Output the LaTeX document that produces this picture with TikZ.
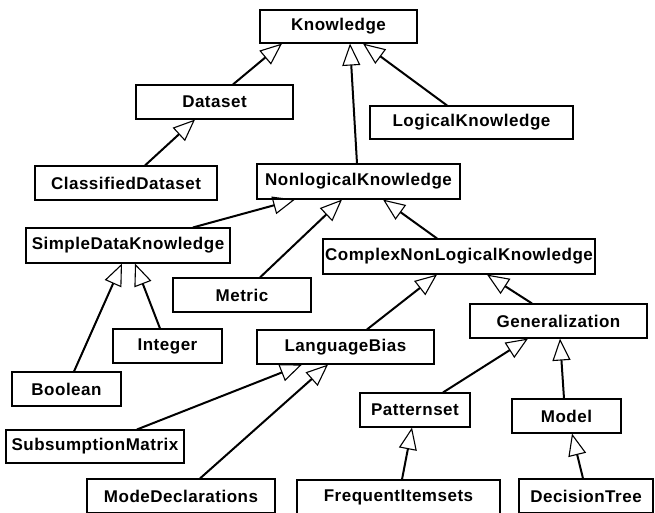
\documentclass[tikz,border=0pt]{standalone}
\usepackage{fontspec}
\setmainfont{Liberation Sans}[LetterSpace=3]
\usetikzlibrary{arrows.meta}
\begin{document}
\begin{tikzpicture}[x=1pt,y=-1pt,
  box/.style={draw, line width=1.1pt, fill=white, inner sep=0pt, minimum height=34pt,
    font=\fontsize{17}{20}\selectfont\bfseries},
  isa/.style={line width=2pt, -{Triangle[open, length=22pt, width=18pt, line width=1.1pt]}}]
\useasboundingbox (0,0) rectangle (655,512);
\node[box, minimum width=157pt, minimum height=33pt] (know) at (338.5,26.5) {Knowledge};
\node[box, minimum width=157pt] (data) at (214.5,102) {Dataset};
\node[box, minimum width=203pt, minimum height=33pt] (logk) at (471.5,122.5) {LogicalKnowledge};
\node[box, minimum width=182pt] (cds) at (126,183) {ClassifiedDataset};
\node[box, minimum width=203pt, minimum height=35pt] (nlk) at (358.5,181.5) {NonlogicalKnowledge};
\node[box, minimum width=204pt, minimum height=35pt] (sdk) at (128,245.5) {SimpleDataKnowledge};
\node[box, minimum width=272pt, minimum height=35pt] (cnlk) at (459,256.5) {ComplexNonLogicalKnowledge};
\node[box, minimum width=138pt] (metric) at (242,295) {Metric};
\node[box, minimum width=177pt] (gen) at (558.5,321) {Generalization};
\node[box, minimum width=109pt] (int) at (167.5,346) {Integer};
\node[box, minimum width=177pt] (lb) at (345.5,347) {LanguageBias};
\node[box, minimum width=109pt] (bool) at (66.5,389) {Boolean};
\node[box, minimum width=110pt] (pat) at (415,410) {Patternset};
\node[box, minimum width=109pt] (model) at (566.5,416) {Model};
\node[box, minimum width=178pt, minimum height=33pt] (sm) at (95,446.5) {SubsumptionMatrix};
\node[box, minimum width=188pt] (md) at (181,496) {ModeDeclarations};
\node[box, minimum width=203pt] (fi) at (398.5,497) {FrequentItemsets};
\node[box, minimum width=134pt] (dt) at (586,496) {DecisionTree};

\draw[isa] ([xshift=18.5pt]data.north) -- ([xshift=-56.5pt]know.south);
\draw[isa] ([xshift=19pt]cds.north) -- ([xshift=-19.5pt]data.south);
\draw[isa] ([xshift=-1.5pt]nlk.north) -- ([xshift=11.5pt]know.south);
\draw[isa] ([xshift=-24.5pt]logk.north) -- ([xshift=24.5pt]know.south);
\draw[isa] ([xshift=65pt]sdk.north) -- ([xshift=-63.5pt]nlk.south);
\draw[isa] ([xshift=18pt]metric.north) -- ([xshift=-16.5pt]nlk.south);
\draw[isa] ([xshift=-22pt]cnlk.north) -- ([xshift=24.5pt]nlk.south);
\draw[isa] ([xshift=7.5pt]bool.north) -- ([xshift=-6pt]sdk.south);
\draw[isa] ([xshift=-7.5pt]int.north) -- ([xshift=7pt]sdk.south);
\draw[isa] ([xshift=21.5pt]lb.north) -- ([xshift=-22pt]cnlk.south);
\draw[isa] ([xshift=-26.5pt]gen.north) -- ([xshift=28pt]cnlk.south);
\draw[isa] ([xshift=42pt]sm.north) -- ([xshift=-43.5pt]lb.south);
\draw[isa] ([xshift=19pt]md.north) -- ([xshift=-17.5pt]lb.south);
\draw[isa] ([xshift=28pt]pat.north) -- ([xshift=-30.5pt]gen.south);
\draw[isa] ([xshift=-2.5pt]model.north) -- ([xshift=1.5pt]gen.south);
\draw[isa] ([xshift=3.5pt]fi.north) -- ([xshift=-3pt]pat.south);
\draw[isa] ([xshift=-3pt]dt.north) -- ([xshift=5.5pt]model.south);
\end{tikzpicture}
\end{document}
